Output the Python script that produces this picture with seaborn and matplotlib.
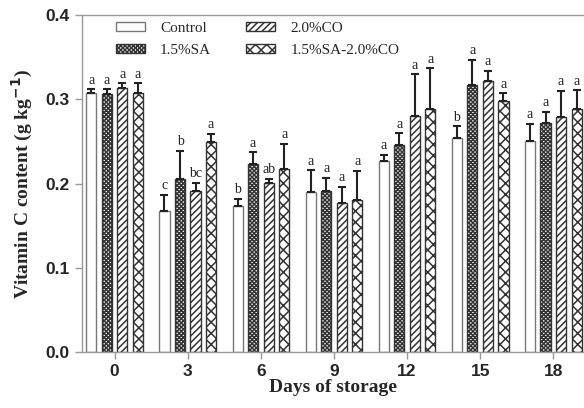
import numpy as np
import pandas as pd
import matplotlib
matplotlib.use("Agg")
import matplotlib.pyplot as plt
from matplotlib.patches import Patch
import seaborn as sns

days = ["0", "3", "6", "9", "12", "15", "18"]
treatments = ["Control", "1.5%SA", "2.0%CO", "1.5%SA-2.0%CO"]

control = [0.307, 0.167, 0.173, 0.190, 0.227, 0.254, 0.250]
sa = [0.306, 0.206, 0.223, 0.191, 0.246, 0.317, 0.272]
co = [0.314, 0.191, 0.201, 0.177, 0.280, 0.322, 0.279]
sa_co = [0.308, 0.249, 0.217, 0.180, 0.288, 0.298, 0.288]

control_err = [0.005, 0.020, 0.009, 0.026, 0.007, 0.014, 0.021]
sa_err = [0.006, 0.033, 0.014, 0.016, 0.014, 0.030, 0.013]
co_err = [0.005, 0.010, 0.005, 0.019, 0.050, 0.012, 0.031]
sa_co_err = [0.011, 0.010, 0.030, 0.035, 0.049, 0.009, 0.023]

control_let = ["a", "c", "b", "a", "a", "b", "a"]
sa_let = ["a", "b", "a", "a", "a", "a", "a"]
co_let = ["a", "bc", "ab", "a", "a", "a", "a"]
sa_co_let = ["a", "a", "a", "a", "a", "a", "a"]

series = [control, sa, co, sa_co]
errs = [control_err, sa_err, co_err, sa_co_err]
letters = [control_let, sa_let, co_let, sa_co_let]

rows = []
for t, vals in zip(treatments, series):
    for d, v in zip(days, vals):
        rows.append({"day": d, "treatment": t, "value": v})
df = pd.DataFrame(rows)

sns.set_style("white")
plt.rcParams["hatch.linewidth"] = 1.1
plt.rcParams["hatch.color"] = "black"

fig = plt.figure(figsize=(5.84, 4.08), dpi=100)
ax = fig.add_axes([0.140, 0.137, 0.860, 0.826])

sns.barplot(data=df, x="day", y="value", hue="treatment", order=days,
            hue_order=treatments, width=0.85, gap=0.35, errorbar=None,
            palette=["white"] * 4, edgecolor="#555555", linewidth=1.0,
            ax=ax, legend=False)

hatches = [None, "xxxxxxxx", "/////", "xxx"]
edges = ["#777777", "#333333", "#333333", "#333333"]
for cont, h, ec in zip(ax.containers, hatches, edges):
    for p in cont:
        if h:
            p.set_hatch(h)
        p.set_edgecolor(ec)

for cont, vals, er, lets in zip(ax.containers, series, errs, letters):
    xs = [p.get_x() + p.get_width() / 2 for p in cont]
    ax.errorbar(xs, vals, yerr=[np.zeros(len(er)), er], fmt="none",
                ecolor="#222222", elinewidth=1.5, capsize=3, capthick=1.5, zorder=5)
    for x, v, e, l in zip(xs, vals, er, lets):
        ax.text(x, v + e + 0.003, l, ha="center", va="bottom",
                family="Liberation Serif", fontsize=10, color="#222222")

ax.set_ylim(0, 0.4)
ax.set_xlim(-0.45, 6.42)
ax.set_yticks([0.0, 0.1, 0.2, 0.3, 0.4])
ax.set_yticklabels(["0.0", "0.1", "0.2", "0.3", "0.4"])

for lab in ax.get_xticklabels() + ax.get_yticklabels():
    lab.set_family("Liberation Sans")
    lab.set_fontweight("bold")
    lab.set_fontsize(12.5)

ax.tick_params(axis="both", which="both", direction="out", length=5, width=1,
               color="#999999", bottom=True, left=True)
for s in ["left", "bottom", "top"]:
    ax.spines[s].set_visible(True)
    ax.spines[s].set_color("#999999")
    ax.spines[s].set_linewidth(1.0)
ax.spines["right"].set_visible(False)

ax.set_xlabel("Days of storage", family="Liberation Serif", fontweight="bold",
              fontsize=14, labelpad=0)
ax.set_ylabel("Vitamin C content (g kg$^{\\mathbf{-1}}$)", family="Liberation Serif",
              fontweight="bold", fontsize=14, labelpad=8)

handles = [Patch(facecolor="white", edgecolor=ec, hatch=h, linewidth=1.0)
           for h, ec in zip(hatches, edges)]
ax.legend(handles, treatments, ncol=2, loc="upper left", bbox_to_anchor=(0.04, 1.02),
          frameon=False, prop={"family": "Liberation Serif", "size": 11},
          handlelength=1.9, handleheight=0.55, handletextpad=1.0,
          columnspacing=2.3, labelspacing=0.6)

fig.savefig("out.png", dpi=100)
